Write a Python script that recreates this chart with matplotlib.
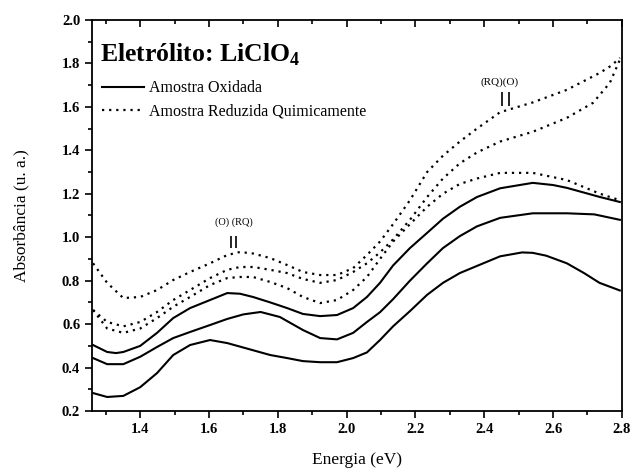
import numpy as np
import matplotlib.pyplot as plt
from matplotlib.ticker import MultipleLocator

# Energy (eV) / absorbance values
ox1_x = [1.263, 1.304, 1.351, 1.40, 1.449, 1.496, 1.545, 1.603, 1.653, 1.728, 1.778, 1.827, 1.873, 1.923, 1.972, 2.019, 2.059,
         2.097, 2.135, 2.184, 2.234, 2.28, 2.329, 2.379, 2.446, 2.51, 2.541, 2.58, 2.64, 2.69, 2.735, 2.794]
ox1_y = [0.283, 0.265, 0.27, 0.31, 0.375, 0.458, 0.504, 0.527, 0.513, 0.48, 0.458, 0.444, 0.43, 0.425, 0.425, 0.444, 0.47,
         0.527, 0.59, 0.66, 0.735, 0.79, 0.835, 0.868, 0.912, 0.93, 0.928, 0.915, 0.88, 0.835, 0.79, 0.755]

ox2_x = [1.263, 1.304, 1.351, 1.40, 1.449, 1.496, 1.545, 1.603, 1.653, 1.70, 1.75, 1.806, 1.873, 1.923, 1.972, 2.019, 2.059,
         2.097, 2.135, 2.184, 2.234, 2.28, 2.329, 2.379, 2.446, 2.541, 2.64, 2.72, 2.794]
ox2_y = [0.444, 0.416, 0.416, 0.45, 0.495, 0.536, 0.564, 0.596, 0.624, 0.645, 0.656, 0.633, 0.573, 0.536, 0.53, 0.56, 0.61,
         0.655, 0.715, 0.80, 0.88, 0.95, 1.005, 1.05, 1.089, 1.11, 1.11, 1.105, 1.08]

ox3_x = [1.263, 1.304, 1.33, 1.351, 1.40, 1.449, 1.496, 1.545, 1.603, 1.653, 1.69, 1.728, 1.778, 1.827, 1.873, 1.923, 1.972,
         2.019, 2.059, 2.097, 2.135, 2.184, 2.234, 2.28, 2.329, 2.379, 2.446, 2.541, 2.60, 2.64, 2.736, 2.794]
ox3_y = [0.504, 0.472, 0.467, 0.472, 0.50, 0.56, 0.628, 0.674, 0.711, 0.743, 0.74, 0.725, 0.70, 0.674, 0.647, 0.637, 0.642,
         0.674, 0.725, 0.79, 0.87, 0.95, 1.02, 1.085, 1.14, 1.185, 1.225, 1.25, 1.24, 1.227, 1.185, 1.162]

rq1_x = [1.263, 1.304, 1.351, 1.40, 1.449, 1.496, 1.545, 1.603, 1.653, 1.69, 1.728, 1.778, 1.827, 1.873, 1.923, 1.972, 2.019,
         2.059, 2.097, 2.135, 2.184, 2.234, 2.28, 2.329, 2.379, 2.446, 2.541, 2.64, 2.736, 2.77, 2.794]
rq1_y = [0.88, 0.79, 0.72, 0.725, 0.757, 0.803, 0.84, 0.88, 0.918, 0.932, 0.925, 0.904, 0.872, 0.84, 0.826, 0.826, 0.858,
         0.918, 0.98, 1.06, 1.17, 1.30, 1.375, 1.44, 1.50, 1.575, 1.62, 1.678, 1.756, 1.79, 1.825]

rq2_x = [1.263, 1.304, 1.351, 1.40, 1.449, 1.496, 1.545, 1.603, 1.653, 1.69, 1.728, 1.778, 1.827, 1.873, 1.923, 1.972, 2.019,
         2.059, 2.097, 2.135, 2.184, 2.234, 2.28, 2.329, 2.379, 2.446, 2.541, 2.64, 2.716, 2.765, 2.794]
rq2_y = [0.665, 0.61, 0.59, 0.61, 0.656, 0.711, 0.757, 0.812, 0.85, 0.863, 0.863, 0.85, 0.835, 0.808, 0.79, 0.803, 0.84,
         0.88, 0.93, 0.99, 1.08, 1.185, 1.27, 1.34, 1.39, 1.44, 1.485, 1.549, 1.618, 1.71, 1.816]

rq3_x = [1.263, 1.304, 1.351, 1.40, 1.449, 1.496, 1.545, 1.603, 1.653, 1.69, 1.728, 1.778, 1.827, 1.873, 1.923, 1.972, 2.019,
         2.059, 2.097, 2.135, 2.184, 2.234, 2.28, 2.329, 2.379, 2.446, 2.541, 2.64, 2.736, 2.794]
rq3_y = [0.665, 0.58, 0.56, 0.58, 0.628, 0.68, 0.725, 0.78, 0.812, 0.817, 0.817, 0.794, 0.766, 0.725, 0.697, 0.711, 0.757,
         0.817, 0.90, 0.98, 1.06, 1.14, 1.20, 1.245, 1.27, 1.296, 1.296, 1.263, 1.20, 1.17]

plt.rcParams['font.family'] = ['Liberation Serif', 'DejaVu Serif']
plt.rcParams['mathtext.fontset'] = 'custom'
plt.rcParams['mathtext.rm'] = 'Liberation Serif'
plt.rcParams['mathtext.bf'] = 'Liberation Serif:bold'

fig = plt.figure(figsize=(6.32, 4.72), dpi=100)
ax = fig.add_axes([0.1456, 0.129, 0.8384, 0.829])

dot = (0, (1, 2.2))
for x, y in [(ox1_x, ox1_y), (ox2_x, ox2_y), (ox3_x, ox3_y)]:
    ax.plot(x, y, color='black', lw=1.5, ls='-')
for x, y in [(rq1_x, rq1_y), (rq2_x, rq2_y), (rq3_x, rq3_y)]:
    ax.plot(x, y, color='black', lw=1.6, ls=dot)

ax.set_xlim(1.26, 2.8)
ax.set_ylim(0.2, 2.0)
ax.xaxis.set_major_locator(MultipleLocator(0.2))
ax.xaxis.set_minor_locator(MultipleLocator(0.1))
ax.yaxis.set_major_locator(MultipleLocator(0.2))
ax.yaxis.set_minor_locator(MultipleLocator(0.1))
ax.xaxis.set_major_formatter(plt.FuncFormatter(lambda v, p: f"{v:.1f}"))
ax.yaxis.set_major_formatter(plt.FuncFormatter(lambda v, p: f"{v:.1f}"))
ax.tick_params(which='both', direction='out', top=True, right=False, width=1.2, labelsize=10.5)
ax.tick_params(which='major', length=5)
ax.tick_params(which='minor', length=3)
for lab in ax.get_xticklabels() + ax.get_yticklabels():
    lab.set_fontweight('bold')
for s in ax.spines.values():
    s.set_linewidth(1.3)
# top ticks point inward
for t in ax.xaxis.get_major_ticks() + ax.xaxis.get_minor_ticks():
    t.tick2line.set_marker(3)

ax.set_xlabel('Energia (eV)', fontsize=12.5)
ax.set_ylabel('Absorbância (u. a.)', fontsize=12.5)
ax.xaxis.set_label_coords(0.5, -0.105)
ax.yaxis.set_label_coords(-0.118, 0.5)

ax.text(0.015, 0.91, r'Eletrólito: LiClO$_\mathbf{4}$', transform=ax.transAxes,
        fontsize=18.5, fontweight='bold', va='center', ha='left')

ax.plot([], [], color='black', lw=1.5, ls='-', label='Amostra Oxidada')
ax.plot([], [], color='black', lw=1.6, ls=dot, label='Amostra Reduzida Quimicamente')
handles, labels = ax.get_legend_handles_labels()
ax.legend(handles[-2:], labels[-2:], loc='upper left', bbox_to_anchor=(0.019, 0.845),
          frameon=False, fontsize=11.5, handlelength=2.6, handletextpad=0.33,
          labelspacing=0.45, borderpad=0, borderaxespad=0)

# peak markers
ax.vlines([1.664, 1.678], 0.95, 1.006, color='black', lw=1.2)
ax.text(1.671, 1.045, '(O) (RQ)', fontsize=7.5, ha='center', va='bottom')
ax.vlines([2.452, 2.473], 1.604, 1.669, color='black', lw=1.2)
ax.text(2.445, 1.69, '(RQ)(O)', fontsize=8, ha='center', va='bottom')

fig.savefig('out.png', dpi=100)
